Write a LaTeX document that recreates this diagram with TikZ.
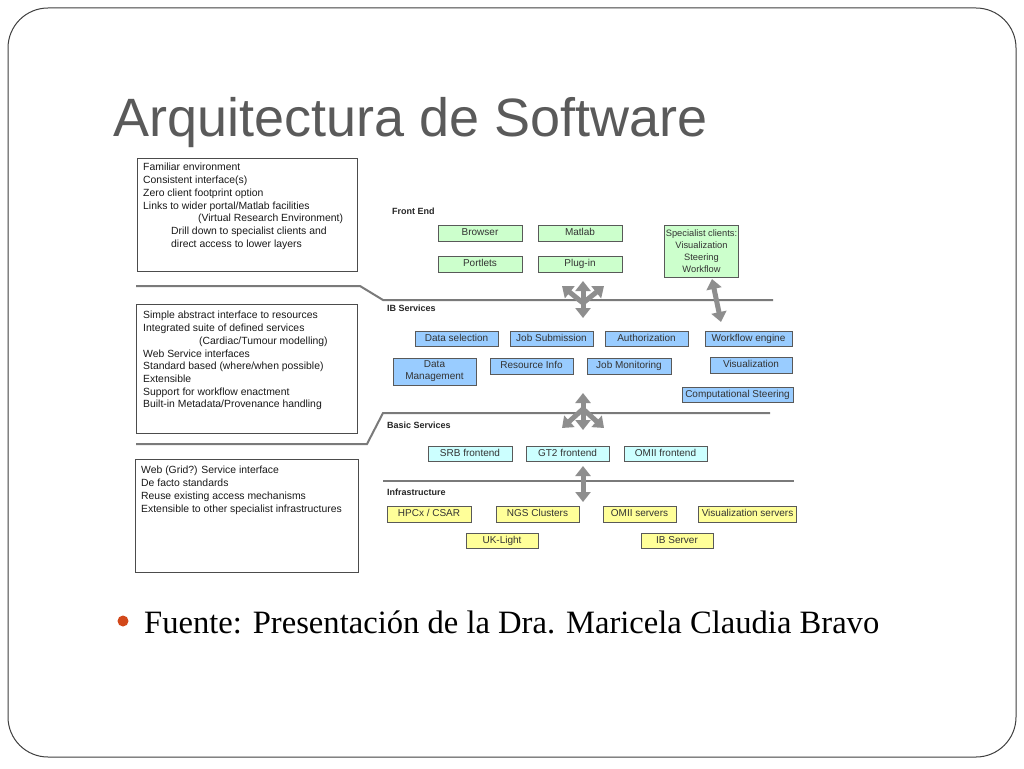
\documentclass[tikz,border=0pt]{standalone}
\usepackage{fontspec}
\setmainfont{Liberation Serif}
\newfontfamily\arial{Liberation Sans}
\usetikzlibrary{arrows.meta}
\definecolor{titlegray}{HTML}{5A5A5A}
\definecolor{bulletc}{HTML}{D2481A}
\definecolor{fegreen}{HTML}{CCFFCC}
\definecolor{ibblue}{HTML}{99CCFF}
\definecolor{bscyan}{HTML}{CCFFFF}
\definecolor{infyel}{HTML}{FFFF99}
\definecolor{sepgray}{HTML}{7A7A7A}
\definecolor{arrgray}{HTML}{8E8E8E}
\tikzset{
  frame/.style={draw=black!75, line width=1pt, rounded corners=40pt},
  sepline/.style={draw=sepgray, line width=2pt},
  lbox/.style={draw=black!70, line width=1.2pt, inner sep=0, anchor=north west},
  ltext/.style={anchor=north west, inner sep=0, align=left, text=black!90,
    font=\arial\fontsize{10.4}{12.7}\selectfont},
  seclabel/.style={anchor=base west, inner sep=0, text=black!85,
    font=\arial\bfseries\fontsize{9}{11}\selectfont},
  mbox/.style={draw=black!65, line width=0.9pt, inner sep=0, align=center,
    text=black!80, font=\arial\fontsize{10}{12}\selectfont},
  nbox/.style={mbox, text height=7.2pt, text depth=2pt},
  fe/.style={nbox, fill=fegreen},
  ib/.style={nbox, fill=ibblue},
  bs/.style={nbox, fill=bscyan},
  inf/.style={nbox, fill=infyel},
  barrow/.style={draw=arrgray, line width=5pt, -{Triangle[width=15pt,length=10pt]}},
  dbarrow/.style={draw=arrgray, line width=5pt, {Triangle[width=15pt,length=10pt]}-{Triangle[width=15pt,length=10pt]}}
}
\begin{document}
\begin{tikzpicture}[x=1pt,y=-1pt]
\useasboundingbox (0,0) rectangle (1024,768);
\fill[white] (0,0) rectangle (1024,768);
\draw[frame] (8,8) rectangle (1016,757);

\node[anchor=base west, inner sep=0, text=titlegray, font=\arial\fontsize{54}{60}\selectfont] (title) at (113,136) {Arquitectura de Software};

\node[circle, fill=bulletc, minimum size=11pt, inner sep=0] (bullet) at (123,621) {};
\node[anchor=base west, inner sep=0, font=\fontsize{32.6}{40}\selectfont] (fuente) at (144,633) {Fuente: Presentación de la Dra. Maricela Claudia Bravo};

% left boxes
\node[lbox, minimum width=220pt, minimum height=113pt] (lb1) at (137,158) {};
\node[ltext] (lt1) at (143,163.2) {Familiar environment\\Consistent interface(s)\\Zero client footprint option\\Links to wider portal/Matlab facilities\\\hspace*{55pt}(Virtual Research Environment)\\\hspace*{28pt}Drill down to specialist clients and\\\hspace*{28pt}direct access to lower layers};

\node[lbox, minimum width=221pt, minimum height=129pt] (lb2) at (136,304) {};
\node[ltext] (lt2) at (143,311.2) {Simple abstract interface to resources\\Integrated suite of defined services\\\hspace*{56pt}(Cardiac/Tumour modelling)\\Web Service interfaces\\Standard based (where/when possible)\\Extensible\\Support for workflow enactment\\Built-in Metadata/Provenance handling};

\node[lbox, minimum width=223pt, minimum height=113pt] (lb3) at (135,459) {};
\node[ltext] (lt3) at (141,466.2) {Web (Grid?) Service interface\\De facto standards\\Reuse existing access mechanisms\\Extensible to other specialist infrastructures};

% separator lines
\coordinate (s1a) at (136,286); \coordinate (s1b) at (360,286);
\coordinate (s1c) at (383,300); \coordinate (s1d) at (773,300);
\draw[sepline] (s1a) -- (s1b) -- (s1c) -- (s1d);
\coordinate (s2a) at (136,444); \coordinate (s2b) at (367,444);
\coordinate (s2c) at (383,413); \coordinate (s2d) at (770,413);
\draw[sepline] (s2a) -- (s2b) -- (s2c) -- (s2d);
\coordinate (s3a) at (383,481); \coordinate (s3b) at (794,481);
\draw[sepline] (s3a) -- (s3b);

% section labels
\node[seclabel] (lfe) at (392,214) {Front End};
\node[seclabel] (lib) at (387,311) {IB Services};
\node[seclabel] (lbs) at (387,428) {Basic Services};
\node[seclabel] (linf) at (387,495) {Infrastructure};

% front end
\node[fe, minimum width=84pt, minimum height=16pt] (browser) at (480,233) {Browser};
\node[fe, minimum width=84pt, minimum height=16pt] (matlab) at (580,233) {Matlab};
\node[fe, minimum width=84pt, minimum height=16pt] (portlets) at (480,264) {Portlets};
\node[fe, minimum width=84pt, minimum height=16pt] (plugin) at (580,264) {Plug-in};
\node[mbox, fill=fegreen, minimum width=74pt, minimum height=52pt, font=\arial\fontsize{9.3}{12}\selectfont] (spec) at (701.5,251) {Specialist clients:\\Visualization\\Steering\\Workflow};

% IB services
\node[ib, minimum width=83pt, minimum height=15pt] (dsel) at (456.5,338.5) {Data selection};
\node[ib, minimum width=83pt, minimum height=15pt] (jsub) at (551.5,338.5) {Job Submission};
\node[ib, minimum width=83pt, minimum height=15pt] (auth) at (646.5,338.5) {Authorization};
\node[ib, minimum width=87pt, minimum height=15pt] (wfe) at (748.5,338.5) {Workflow engine};
\node[mbox, fill=ibblue, minimum width=83pt, minimum height=27pt] (dman) at (434.5,371.5) {Data\\Management};
\node[ib, minimum width=83pt, minimum height=16pt] (rinfo) at (531.5,366) {Resource Info};
\node[ib, minimum width=84pt, minimum height=16pt] (jmon) at (629,366) {Job Monitoring};
\node[ib, minimum width=82pt, minimum height=16pt] (vis) at (751,365) {Visualization};
\node[ib, minimum width=111pt, minimum height=15pt] (csteer) at (737.5,394.5) {Computational Steering};

% basic services
\node[bs, minimum width=84pt, minimum height=15pt] (srb) at (470,453.5) {SRB frontend};
\node[bs, minimum width=83pt, minimum height=15pt] (gt2) at (567.5,453.5) {GT2 frontend};
\node[bs, minimum width=83pt, minimum height=15pt] (omiif) at (665.5,453.5) {OMII frontend};

% infrastructure
\node[inf, minimum width=84pt, minimum height=16pt] (hpcx) at (429,514) {HPCx / CSAR};
\node[inf, minimum width=83pt, minimum height=16pt] (ngs) at (537.5,514) {NGS Clusters};
\node[inf, minimum width=73pt, minimum height=16pt] (omiis) at (639.5,514) {OMII servers};
\node[inf, minimum width=98pt, minimum height=16pt] (viss) at (747.5,514) {Visualization servers};
\node[inf, minimum width=72pt, minimum height=15pt] (uk) at (502,540.5) {UK-Light};
\node[inf, minimum width=72pt, minimum height=15pt] (ibs) at (677,540.5) {IB Server};

% arrows
\coordinate (c1) at (583,303);
\coordinate (c1u) at (583,281); \coordinate (c1l) at (562,286);
\coordinate (c1r) at (604,286); \coordinate (c1d) at (583,318);
\draw[barrow] (c1) -- (c1u);
\draw[barrow] (c1) -- (c1l);
\draw[barrow] (c1) -- (c1r);
\draw[barrow] (c1) -- (c1d);

\coordinate (c2) at (583,409);
\coordinate (c2u) at (583,393); \coordinate (c2l) at (562,428);
\coordinate (c2r) at (604,428); \coordinate (c2d) at (583,430);
\draw[barrow] (c2) -- (c2u);
\draw[barrow] (c2) -- (c2l);
\draw[barrow] (c2) -- (c2r);
\draw[barrow] (c2) -- (c2d);

\coordinate (w1) at (712,279); \coordinate (w2) at (721,322);
\draw[dbarrow] (w1) -- (w2);

\coordinate (b1) at (583,466); \coordinate (b2) at (583,502);
\draw[dbarrow] (b1) -- (b2);
\end{tikzpicture}
\end{document}
